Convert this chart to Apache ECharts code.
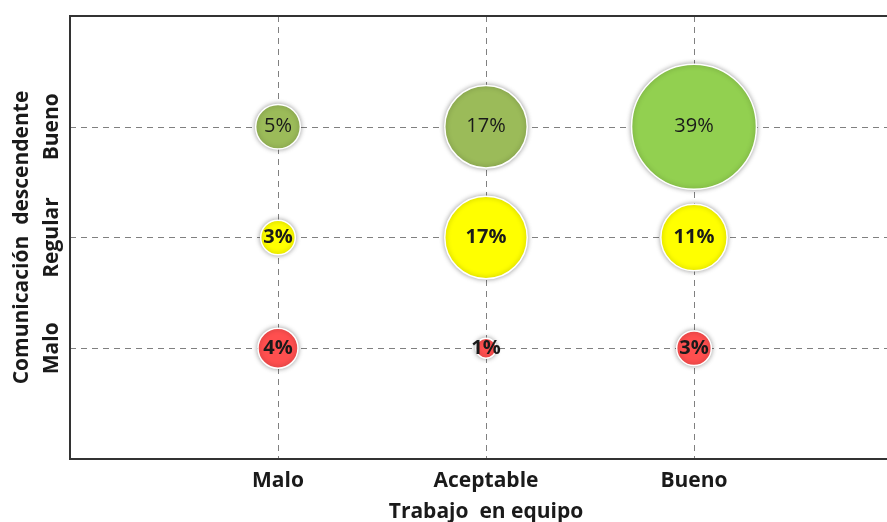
<!DOCTYPE html>
<html>
<head>
<meta charset="utf-8">
<script src="https://cdn.jsdelivr.net/npm/echarts@6/dist/echarts.min.js"></script>
<style>html,body{margin:0;padding:0;background:#fff;overflow:hidden;width:887px;height:522px}#c{width:902px;height:522px}</style>
</head>
<body>
<div id="c"></div>
<script>
// Tick labels
const xCategories = ['Malo', 'Aceptable', 'Bueno'];   // Trabajo en equipo
const yCategories = ['Malo', 'Regular', 'Bueno'];     // Comunicación descendente

// Percentages per row (one per x category)
const rowBueno   = [5, 17, 39];
const rowRegular = [3, 17, 11];
const rowMalo    = [4, 1, 3];

const xTitle = 'Trabajo  en equipo';
const yTitle = 'Comunicación  descendente';

function toPoints(values, yIndex) {
  return values.map((v, i) => [i + 1, yIndex + 1, v]);
}

const labelFont = '"Open Sans", Lato, sans-serif';

function makeSeries(name, values, yIndex, color, altColors, weight) {
  const pts = toPoints(values, yIndex);
  return {
    name: name,
    type: 'scatter',
    data: pts.map((p, i) => {
      const item = { value: p };
      if (altColors && altColors[i]) item.itemStyle = { color: altColors[i] };
      return item;
    }),
    symbolSize: v => 20 * Math.sqrt(v[2]),
    itemStyle: {
      color: color,
      borderColor: '#ffffff',
      borderWidth: 1.5,
      shadowBlur: 5,
      shadowColor: 'rgba(0,0,0,0.35)',
      opacity: 1
    },
    label: {
      show: true,
      position: 'inside',
      formatter: p => p.value[2] + '%',
      color: '#1a1a1a',
      fontSize: 20,
      fontWeight: weight,
      fontFamily: labelFont
    },
    emphasis: { disabled: true }
  };
}

const chart = echarts.init(document.getElementById('c'), null, { renderer: 'canvas' });
chart.setOption({
  backgroundColor: '#ffffff',
  animation: false,
  grid: {
    left: 70, top: 16, bottom: 63, right: 0,
    containLabel: false, outerBoundsMode: 'none',
    show: true, borderColor: '#333333', borderWidth: 2,
    backgroundColor: 'transparent', z: 5
  },
  xAxis: {
    type: 'value', min: 0, max: 4, interval: 1,
    axisLine: { show: false },
    axisTick: { show: false },
    axisLabel: {
      margin: 12,
      fontSize: 21, fontWeight: 'bold', color: '#1a1a1a', fontFamily: labelFont,
      formatter: v => xCategories[v - 1] || ''
    },
    splitLine: { show: true, lineStyle: { color: '#808080', type: [6, 5], width: 1 } },
    name: xTitle, nameLocation: 'middle', nameGap: 43,
    nameTextStyle: { fontSize: 21, fontWeight: 'bold', color: '#1a1a1a', fontFamily: labelFont }
  },
  yAxis: {
    type: 'value', min: 0, max: 4, interval: 1,
    axisLine: { show: false },
    axisTick: { show: false },
    axisLabel: {
      margin: 7, rotate: 90,
      fontSize: 21, fontWeight: 'bold', color: '#1a1a1a', fontFamily: labelFont,
      formatter: v => yCategories[v - 1] || ''
    },
    splitLine: { show: true, lineStyle: { color: '#808080', type: [6, 5], width: 1 } },
    name: yTitle, nameLocation: 'middle', nameGap: 37, nameRotate: 90,
    nameTextStyle: { fontSize: 21, fontWeight: 'bold', color: '#1a1a1a', fontFamily: labelFont }
  },
  series: [
    makeSeries('Bueno', rowBueno, 2, '#9BBB59', [null, null, '#92D050'], 'normal'),
    makeSeries('Regular', rowRegular, 1, '#FFFF00', null, 'bold'),
    makeSeries('Malo', rowMalo, 0, '#FF4F4F', null, 'bold')
  ]
});
</script>
</body>
</html>
